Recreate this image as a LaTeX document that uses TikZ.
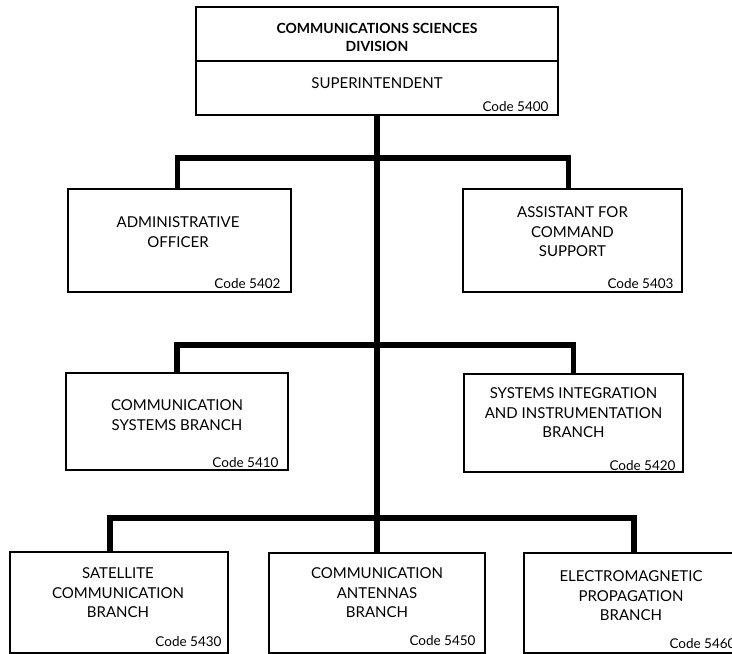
\documentclass[tikz,border=0pt]{standalone}
\usepackage{fontspec}
\setmainfont{Lato}
\begin{document}
\begin{tikzpicture}[x=1pt,y=-1pt,
  box/.style={draw=black, line width=1.4pt, rectangle, inner sep=0pt},
  lbl/.style={font=\fontsize{15}{19.5}\selectfont, align=center, text=black, inner sep=0pt},
  ttl/.style={font=\bfseries\fontsize{14}{18}\selectfont, align=center, text=black, inner sep=0pt},
  codelbl/.style={font=\fontsize{13.5}{16}\selectfont, text=black, inner sep=0pt, anchor=east},
  conn/.style={line width=5.5pt, line join=miter, line cap=butt}]
\useasboundingbox (0,0) rectangle (732,654);

% boxes
\node[box, minimum width=362pt, minimum height=108pt] (div) at (377,61) {};
\draw[line width=1.4pt] (div.west) -- (div.east);
\node[box, minimum width=223pt, minimum height=103pt] (adm) at (179.5,240.5) {};
\node[box, minimum width=219pt, minimum height=103pt] (ast) at (572.5,240.5) {};
\node[box, minimum width=222pt, minimum height=97pt] (csb) at (177,421.5) {};
\node[box, minimum width=219pt, minimum height=98pt] (sib) at (573.5,423) {};
\node[box, minimum width=218pt, minimum height=101pt] (sat) at (119,602.5) {};
\node[box, minimum width=216pt, minimum height=100pt] (ant) at (377,603) {};
\node[box, minimum width=220pt, minimum height=100pt] (emp) at (634,603) {};

% texts
\node[ttl] (divt) at (377,37) {COMMUNICATIONS SCIENCES\\DIVISION};
\node[lbl] (supt) at (377,83) {SUPERINTENDENT};
\node[codelbl] (divc) at ([xshift=-10pt,yshift=9pt]div.south east) {Code 5400};

\node[lbl] (admt) at (178,232) {ADMINISTRATIVE\\OFFICER};
\node[codelbl] (admc) at ([xshift=-11pt,yshift=9pt]adm.south east) {Code 5402};

\node[lbl] (astt) at (572.5,232) {ASSISTANT FOR\\COMMAND\\SUPPORT};
\node[codelbl] (astc) at ([xshift=-9pt,yshift=9pt]ast.south east) {Code 5403};

\node[lbl] (csbt) at (177,415) {COMMUNICATION\\SYSTEMS BRANCH};
\node[codelbl] (csbc) at ([xshift=-10pt,yshift=8pt]csb.south east) {Code 5410};

\node[lbl] (sibt) at (573.5,413) {SYSTEMS INTEGRATION\\AND INSTRUMENTATION\\BRANCH};
\node[codelbl] (sibc) at ([xshift=-8pt,yshift=7pt]sib.south east) {Code 5420};

\node[lbl] (satt) at (118,593) {SATELLITE\\COMMUNICATION\\BRANCH};
\node[codelbl] (satc) at ([xshift=-7pt,yshift=12pt]sat.south east) {Code 5430};

\node[lbl] (antt) at (377,593) {COMMUNICATION\\ANTENNAS\\BRANCH};
\node[codelbl] (antc) at ([xshift=-10pt,yshift=13pt]ant.south east) {Code 5450};

\node[lbl] (empt) at (631,596) {ELECTROMAGNETIC\\PROPAGATION\\BRANCH};
\node[codelbl] (empc) at ([xshift=-9pt,yshift=10pt]emp.south east) {Code 5460};

% connectors
\coordinate (j1) at (377,158);
\coordinate (j2) at (377,345);
\coordinate (j3) at (377,518);
\draw[conn] (div.south) -- (ant.north);
\draw[conn] ([xshift=-2pt]adm.north) |- (j1) -| ([xshift=-4pt]ast.north);
\draw[conn] (csb.north) |- (j2) -| (sib.north);
\draw[conn] ([xshift=-9pt]sat.north) |- (j3) -| (emp.north);
\end{tikzpicture}
\end{document}
